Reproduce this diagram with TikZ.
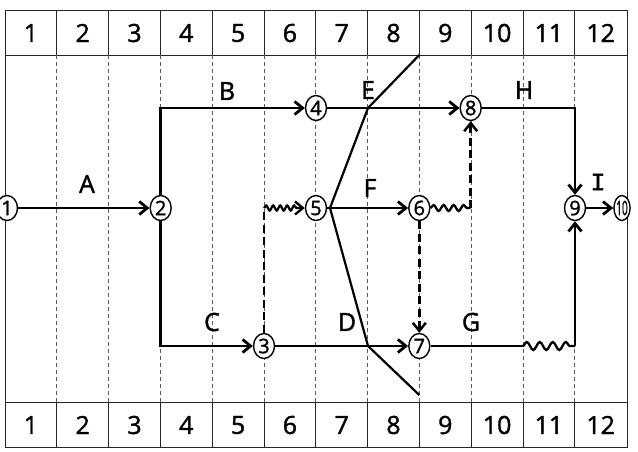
\documentclass[tikz,border=0pt]{standalone}
\usepackage{fontspec}
\setmainfont[FakeBold=1.5,AutoFakeBold=1.5]{Open Sans}
\newfontfamily\heavy[FakeBold=1.5]{Open Sans}
\newfontfamily\serifI[FakeBold=1.5]{Liberation Mono}
\usetikzlibrary{arrows.meta,decorations.pathmorphing,calc,shapes.geometric}
\begin{document}
\begin{tikzpicture}[x=1pt,y=-1pt,
  tbl/.style={line width=1pt, draw=black!85},
  gline/.style={line width=0.9pt, draw=black!65, dash pattern=on 4pt off 3pt},
  ev/.style={ellipse, draw, fill=white, line width=1.4pt, minimum width=21pt, minimum height=25pt, inner sep=0pt, font=\heavy\fontsize{20}{20}\selectfont},
  evnarrow/.style={ev, minimum width=13pt},
  tip/.style={-{Straight Barb[length=8pt,width=13pt]}},
  act/.style={line width=2.8pt, line join=miter},
  dummy/.style={line width=2.5pt, dash pattern=on 8pt off 4.5pt},
  wave/.style={line width=2.3pt, decorate, decoration={snake, segment length=8pt, amplitude=2.5pt}},
  lbl/.style={font=\heavy\fontsize{25}{25}\selectfont, inner sep=0pt},
  hd/.style={font=\heavy\fontsize{25}{25}\selectfont, inner sep=0pt},
  chk/.style={line width=2.2pt}
]
\useasboundingbox (0,0) rectangle (638,451);
% table
\draw[tbl] (5,10) rectangle (627,447);
\draw[tbl] (5,55) -- (627,55);
\draw[tbl] (5,402) -- (627,402);
\foreach \k in {1,...,11}{
  \draw[tbl] ({5+51.8*\k},10) -- ({5+51.8*\k},55);
  \draw[tbl] ({5+51.8*\k},402) -- ({5+51.8*\k},447);
  \draw[gline] ({5+51.8*\k},55) -- ({5+51.8*\k},402);
}
\foreach \k in {1,...,12}{
  \node[hd] (h\k) at ({5+51.8*\k-25.9},33) {\k};
  \node[hd] (f\k) at ({5+51.8*\k-25.9},425) {\k};
}
% check line
\coordinate (c1) at (419.3,55);
\coordinate (c2) at (368,108);
\coordinate (c3) at (330,208);
\coordinate (c4) at (368,346);
\coordinate (c5) at (419.3,395);
\draw[chk] (c1) -- (c2) -- (c3) -- (c4) -- (c5);
% events
\node[ev] (n1) at (7,208) {1};
\node[ev] (n2) at (160.7,208) {2};
\node[ev] (n3) at (264,346) {3};
\node[ev] (n4) at (316,108) {4};
\node[ev] (n5) at (316,208) {5};
\node[ev] (n6) at (419.3,208) {6};
\node[ev] (n7) at (419.3,346) {7};
\node[ev] (n8) at (470.7,108) {8};
\node[ev] (n9) at (575,208) {9};
\node[evnarrow] (n10) at (622,208) {\scalebox{0.5}[1]{10}};
% activities
\draw[act,tip] (n1) -- (n2);
\draw[act,tip] (n2) -- (n2 |- n4) -- (n4);
\draw[act,tip] (n2) -- (n2 |- n3) -- (n3);
\draw[act,tip] (n4) -- (n8);
\draw[act,tip] (n5) -- (n6);
\draw[act,tip] (n3) -- (n7);
\coordinate (g1) at (522.7,346);
\coordinate (g2) at (575,346);
\draw[act] (n7) -- (g1);
\draw[wave, decoration={segment length=13pt, amplitude=4pt}] (g1) -- (g2);
\draw[act,tip] (g2) -- (n9);
\draw[act,tip] (n8) -- (n8 -| n9) -- (n9);
\draw[act,tip] (n9) -- (n10);
% dummies
\coordinate (d1) at (264,208);
\draw[dummy] (n3) -- (d1);
\draw[wave, tip, decoration={segment length=7pt, amplitude=2.5pt, post length=6pt}] (d1) -- (n5);
\coordinate (d2) at (470.7,208);
\draw[wave, decoration={segment length=10pt, amplitude=3pt}] (n6) -- (d2);
\draw[dummy,tip] (d2) -- (n8);
\draw[dummy,tip] (n6) -- (n7);
% labels
\node[lbl] (lA) at (87,184) {A};
\node[lbl] (lB) at (227,91) {B};
\node[lbl] (lC) at (212,322) {C};
\node[lbl] (lD) at (347,322) {D};
\node[lbl] (lE) at (368,90) {E};
\node[lbl] (lF) at (370,188) {F};
\node[lbl] (lG) at (471,322) {G};
\node[lbl] (lH) at (524,90) {H};
\node[lbl] (lI) at (598,182) {\serifI\fontsize{25}{25}\selectfont I};
\end{tikzpicture}
\end{document}
